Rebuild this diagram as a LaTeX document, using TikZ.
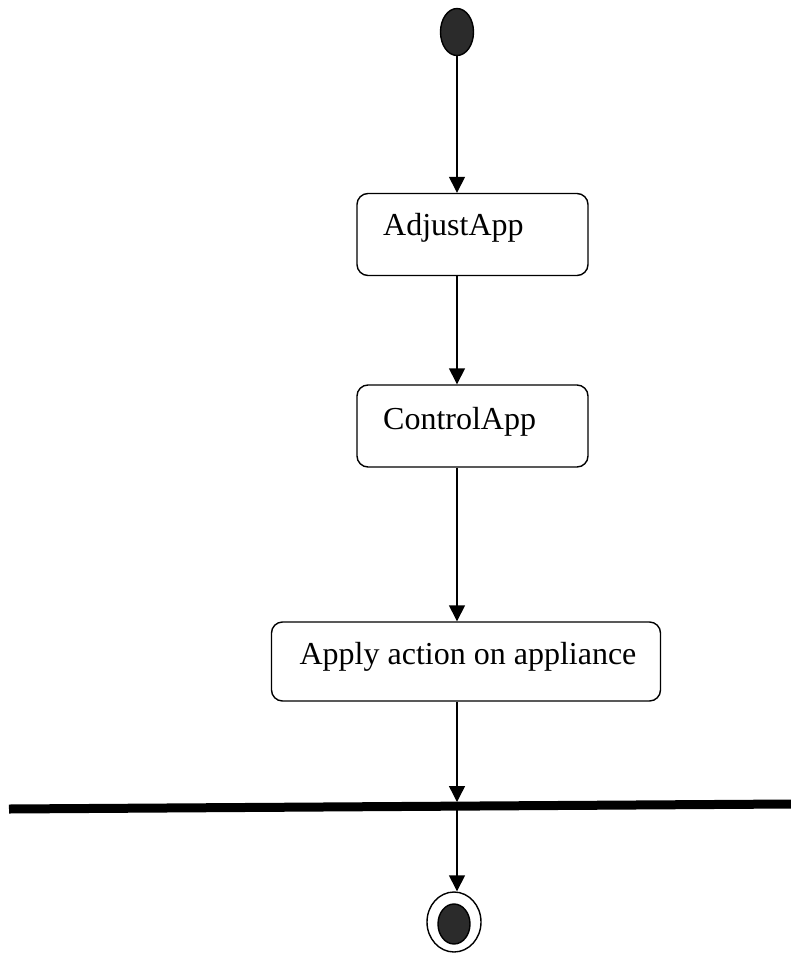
\documentclass[tikz,border=0pt]{standalone}
\usepackage{fontspec}
\setmainfont{Liberation Serif}
\usetikzlibrary{arrows.meta,shapes.geometric}
\definecolor{dotgray}{HTML}{2B2B2B}
\begin{document}
\begin{tikzpicture}[x=1pt,y=-1pt,
  act/.style={draw=black, line width=1.4pt, rounded corners=11pt,
    minimum height=82pt, inner sep=0pt},
  lbl/.style={anchor=base west, inner sep=0pt, font=\fontsize{32}{38}\selectfont},
  flow/.style={-{Triangle[width=16pt,length=16pt]}, line width=1.4pt},
  dot/.style={ellipse, draw=black, line width=1.4pt, fill=dotgray, inner sep=0pt}
]
\useasboundingbox (0,0) rectangle (791,955);

% initial state
\node[dot, minimum width=33pt, minimum height=47pt] (start) at (457,32) {};

% activities
\node[act, minimum width=231pt] (adjust) at (472.5,234.5) {};
\node[lbl] (adjustT) at (383,235) {AdjustApp};

\node[act, minimum width=231pt] (control) at (472.5,426) {};
\node[lbl] (controlT) at (383,429) {ControlApp};

\node[act, minimum width=389pt, minimum height=79pt] (apply) at (466,661.5) {};
\node[lbl, anchor=base] (applyT) at (468,664) {Apply action on appliance};

% synchronisation bar
\coordinate (barL) at (9,809);
\coordinate (barR) at (791,804);
\coordinate (barT) at (457,802);
\coordinate (barM) at (457,806);
\draw[line width=9pt] (barL) -- (barR);

% final state
\node[ellipse, draw=black, line width=1.4pt, fill=white, inner sep=0pt,
  minimum width=54pt, minimum height=60pt] (endo) at (454,922) {};
\node[dot, minimum width=32pt, minimum height=40pt] (endi) at (454,924) {};

% transitions
\draw[flow] (start.south) -- (start.south |- adjust.north);
\draw[flow] (adjust.south -| start) -- (control.north -| start);
\draw[flow] (control.south -| start) -- (apply.north -| start);
\draw[flow] (apply.south -| start) -- (barT);
\draw[flow] (barM) -- (barM |- endo.north);
\end{tikzpicture}
\end{document}
